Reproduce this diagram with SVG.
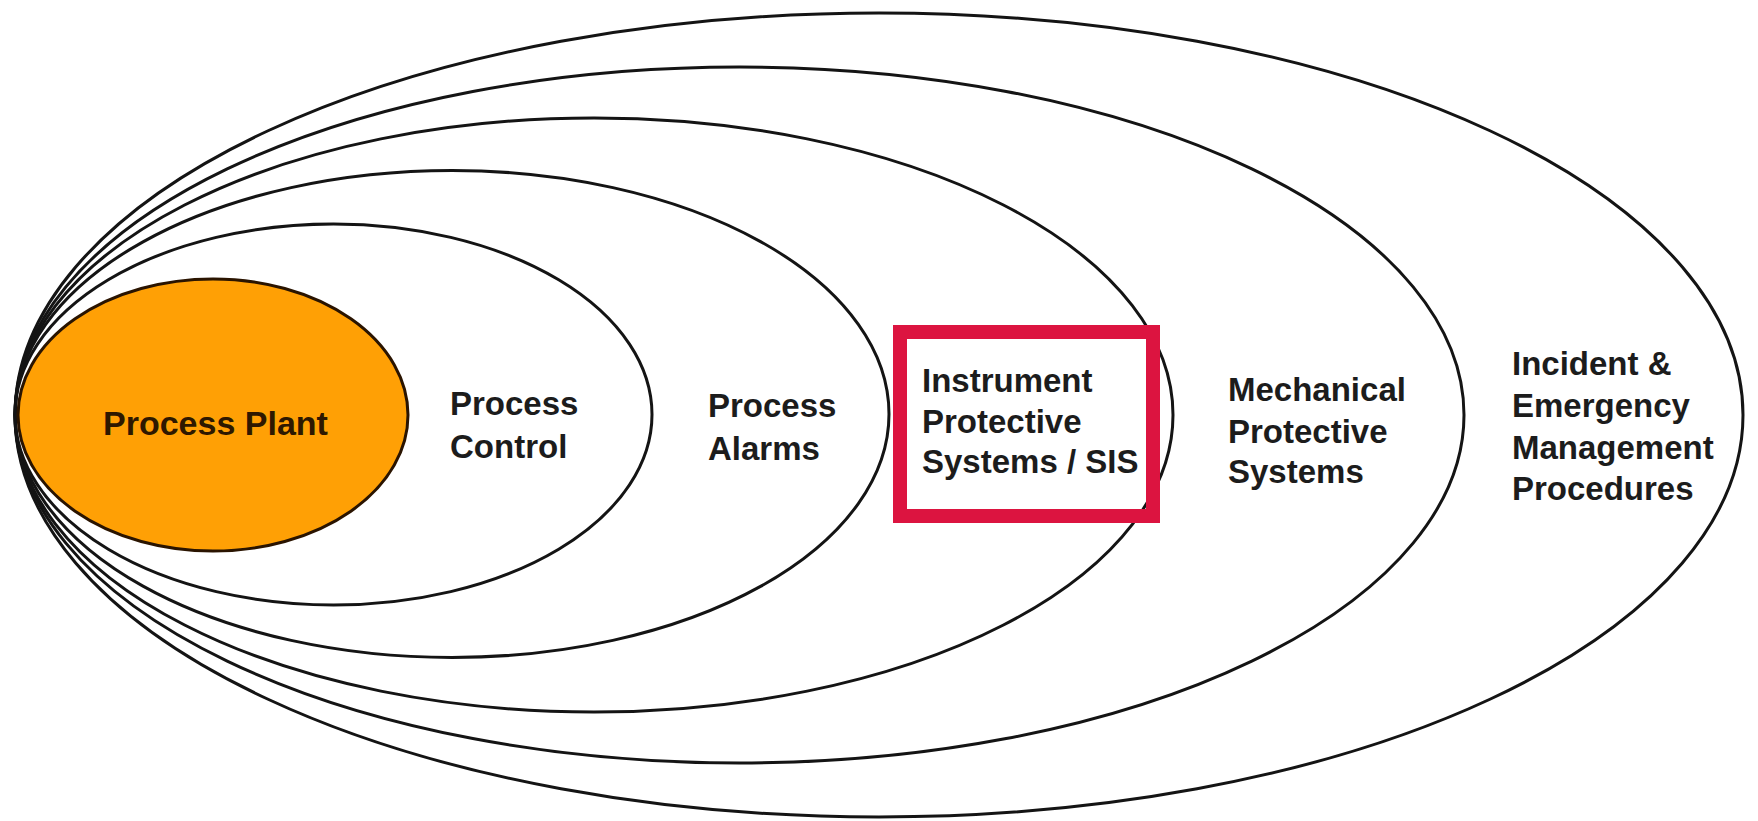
<svg xmlns="http://www.w3.org/2000/svg" width="1758" height="821" viewBox="0 0 1758 821">
<style>
.ring{fill:none;stroke:#141414;stroke-width:3}
.lbl{font-family:"Liberation Sans",Arial,sans-serif;font-weight:bold;font-size:33px;fill:#1c1c1c}
</style>
<rect width="1758" height="821" fill="#ffffff"/>
<g id="incident-emergency">
<ellipse class="ring" cx="879" cy="415" rx="864" ry="402"/>
<text class="lbl" x="1512" y="375">Incident &amp;</text>
<text class="lbl" x="1512" y="417">Emergency</text>
<text class="lbl" x="1512" y="459">Management</text>
<text class="lbl" x="1512" y="500">Procedures</text>
</g>
<g id="mechanical-protective">
<ellipse class="ring" cx="739.5" cy="415" rx="724.5" ry="348"/>
<text class="lbl" x="1228" y="401">Mechanical</text>
<text class="lbl" x="1228" y="443">Protective</text>
<text class="lbl" x="1228" y="483">Systems</text>
</g>
<g id="instrument-protective">
<ellipse class="ring" cx="594" cy="415" rx="579" ry="297"/>
<text class="lbl" x="922" y="392">Instrument</text>
<text class="lbl" x="922" y="433">Protective</text>
<text class="lbl" x="922" y="473">Systems / SIS</text>
<rect x="900" y="332" width="253" height="184" fill="none" stroke="#dc1440" stroke-width="14"/>
</g>
<g id="process-alarms">
<ellipse class="ring" cx="452" cy="414" rx="437" ry="243.5"/>
<text class="lbl" x="708" y="417">Process</text>
<text class="lbl" x="708" y="460">Alarms</text>
</g>
<g id="process-control">
<ellipse class="ring" cx="333.5" cy="414.5" rx="318.5" ry="190.5"/>
<text class="lbl" x="450" y="415">Process</text>
<text class="lbl" x="450" y="458">Control</text>
</g>
<g id="process-plant">
<ellipse cx="213" cy="415" rx="195" ry="136" fill="#ffa005" stroke="#2a1400" stroke-width="3"/>
<text class="lbl" x="103" y="435" style="font-size:34px;fill:#2e1800">Process Plant</text>
</g>
<g id="connectors"/>
</svg>
